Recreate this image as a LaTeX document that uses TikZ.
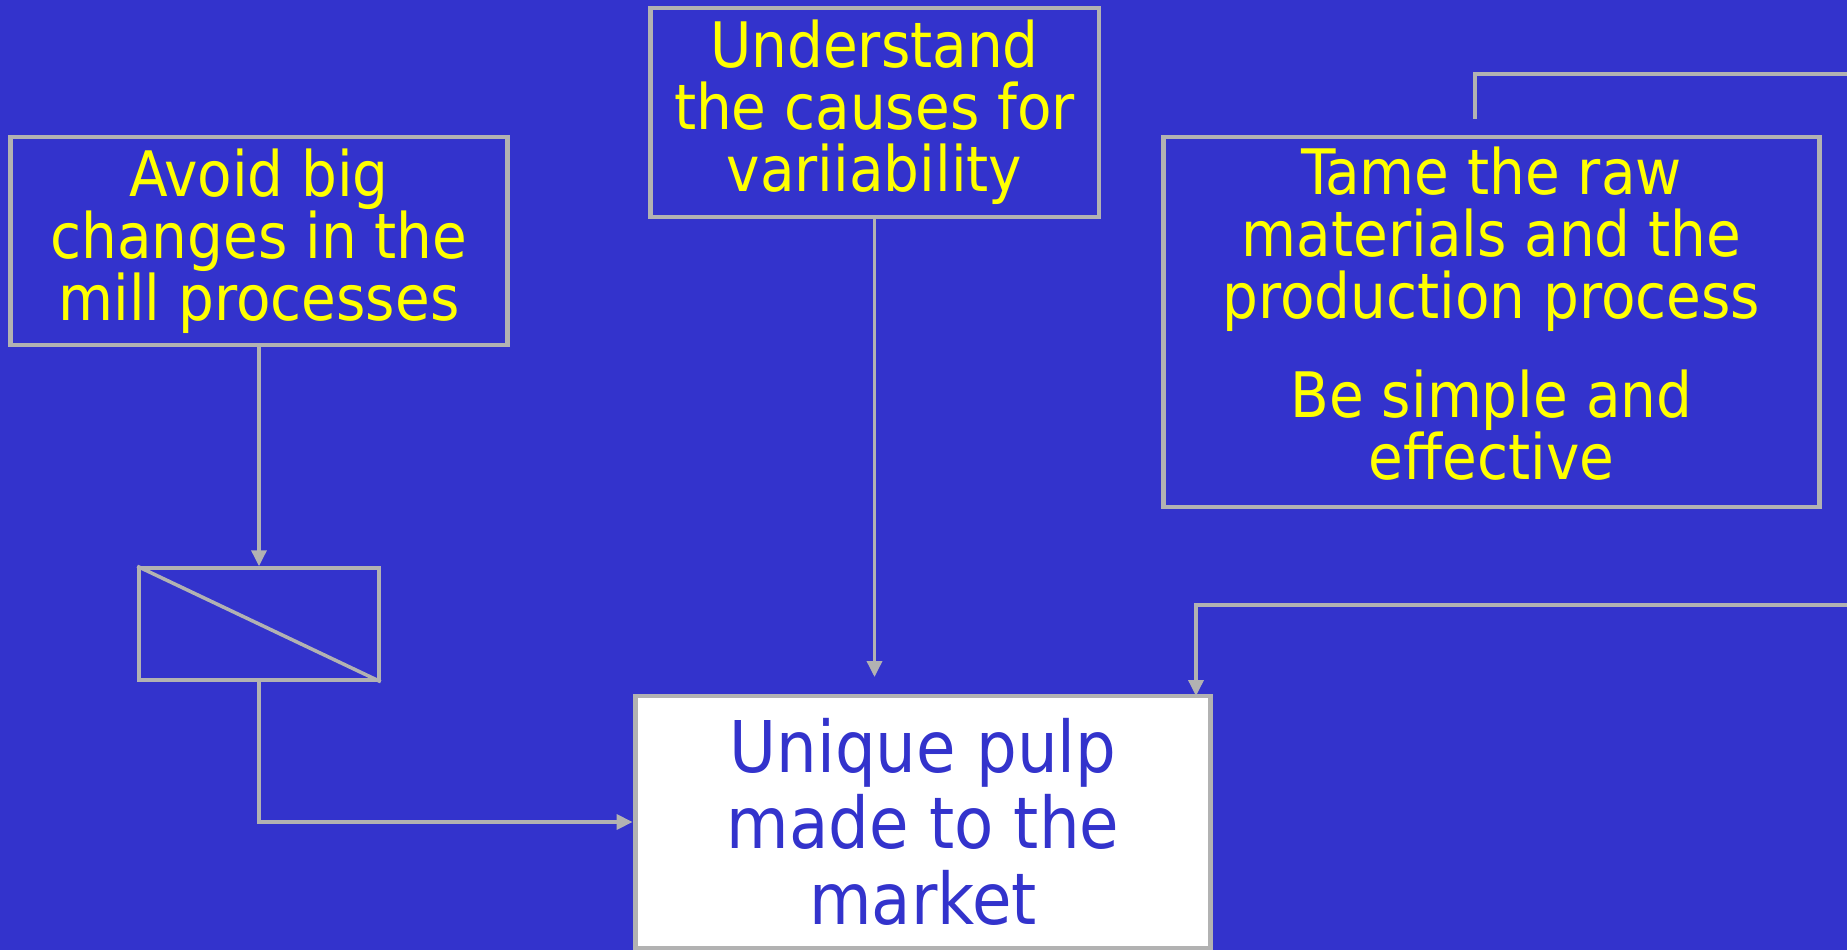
\documentclass[tikz,border=0pt]{standalone}
\usepackage{fontspec}
\setmainfont{DejaVu Sans Condensed}
\usetikzlibrary{positioning}
\usetikzlibrary{arrows.meta}
\definecolor{slideblue}{RGB}{51,51,204}
\definecolor{linegray}{RGB}{178,178,178}
\definecolor{textyellow}{RGB}{255,255,0}

\begin{document}
\begin{tikzpicture}[x=0.02cm, y=-0.02cm,
            yellowsquarednode/.style={rectangle, draw=linegray, line width=2.8pt, text=textyellow, align=center, inner sep=0pt, font=\fontsize{35.7}{35.2}\selectfont},
            whitesquarednode/.style={rectangle, draw=linegray, fill=white, line width=2.8pt, text=slideblue, align=center, inner sep=0pt, font=\fontsize{40.6}{43.1}\selectfont},
            graysquarednode/.style={rectangle, draw=linegray, line width=2pt, inner sep=0pt},
            grayline/.style={draw=linegray, line width=2pt},
            grayarrow/.style={grayline, -{Triangle[length=0.32cm, width=0.3cm]}},
            ]
            \fill[slideblue] (0,0) rectangle (1847,950);
            \useasboundingbox (0,0) rectangle (1847,950);

            \node[yellowsquarednode, minimum width=9.94cm, minimum height=4.16cm] (avoid) at (259,241) {Avoid big\\changes in the\\mill processes};
            \node[yellowsquarednode, minimum width=8.98cm, minimum height=4.18cm] (underst) at (874.5,112.5) {Understand\\the causes for\\variiability};
            \node[yellowsquarednode, minimum width=13.14cm, minimum height=7.4cm, text depth=0.36cm] (tame) at (1491.5,322) {Tame the raw\\materials and the\\production process\\[0.74cm]Be simple and\\effective};
            \node[graysquarednode, minimum width=4.8cm, minimum height=2.24cm] (smallbox) at (259,624) {};
            \node[whitesquarednode, minimum width=11.52cm, minimum height=5.04cm] (pulp) at (923,822) {Unique pulp\\made to the\\market};

            \coordinate (pulpstop) at (874.5,677);
            \coordinate (tamestart) at (1475,119);
            \coordinate (edgetop) at (1847,74);
            \coordinate (edgemid) at (1847,605);
            \coordinate (pulpin) at (1196,696);

            \draw[grayline] (smallbox.north west) -- (smallbox.south east);

            \draw[grayarrow] (avoid.south) -- (smallbox.north);
            \draw[grayarrow] (smallbox.south) |- (pulp.west);
            \draw[grayarrow] (underst.south) -- (pulpstop);
            \draw[grayline] (tamestart) |- (edgetop);
            \draw[grayarrow] (edgemid) -| (pulpin);
        \end{tikzpicture}
\end{document}
